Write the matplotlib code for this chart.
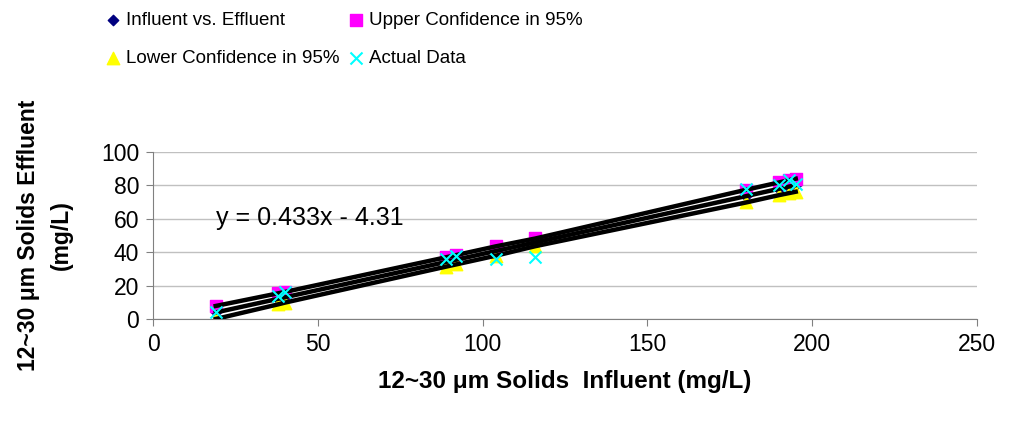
import matplotlib.pyplot as plt

plt.rcParams['font.family'] = ['Liberation Sans', 'DejaVu Sans']

# influent values (mg/L)
influent = [19, 38, 40, 89, 92, 104, 116, 180, 190, 193, 195]
# fitted effluent, y = 0.433x - 4.31
fitted = [3.9, 12.1, 13.0, 34.2, 35.5, 40.7, 45.9, 73.6, 78.0, 79.3, 80.1]
upper = [7.8, 15.4, 16.2, 37.0, 38.3, 43.5, 48.2, 77.4, 81.8, 83.2, 84.0]
lower = [0.0, 8.8, 9.8, 31.4, 32.7, 37.9, 43.6, 69.8, 74.2, 75.4, 76.2]
actual = [4, 14, 16, 36, 38, 36, 37, 78, 80, 83, 81]

equation = "y = 0.433x - 4.31"

fig = plt.figure(figsize=(10.14, 4.21), dpi=100)
ax = fig.add_axes([0.151, 0.2423, 0.8125, 0.3967])

# confidence lines and the fit
ax.plot(influent, upper, color='black', linewidth=3.2, zorder=3)
ax.plot(influent, lower, color='black', linewidth=3.2, zorder=3)
ax.plot(influent, fitted, color='black', linewidth=3.2, zorder=3)

h1 = ax.scatter(influent, fitted, marker='D', s=28, color='#000080', zorder=2)
h2 = ax.scatter(influent, upper, marker='s', s=70, color='#ff00ff', zorder=2)
h3 = ax.scatter(influent, lower, marker='^', s=80, color='#ffff00', zorder=2)
h4 = ax.scatter(influent, actual, marker='x', s=75, color='#00ffff', linewidths=1.5,
                zorder=4)

ax.text(19, 60.5, equation, fontsize=18, va='center', ha='left')

ax.set_xlim(0, 250)
ax.set_ylim(0, 100)
ax.set_xticks(range(0, 251, 50))
ax.set_yticks(range(0, 101, 20))
ax.tick_params(labelsize=16.5, direction='out', length=5, color='#808080', pad=5)
ax.yaxis.grid(True, color='#c0c0c0', linewidth=1)
ax.set_axisbelow(True)
for side in ['top', 'right']:
    ax.spines[side].set_visible(False)
for side in ['left', 'bottom']:
    ax.spines[side].set_color('#808080')

ax.set_xlabel('12~30 μm Solids  Influent (mg/L)', fontsize=17.5, fontweight='bold',
              labelpad=10)
ax.set_ylabel('12~30 μm Solids Effluent\n(mg/L)', fontsize=16.5, fontweight='bold',
              labelpad=20, linespacing=1.55)

# row-wise order like the original: Influent, Upper / Lower, Actual
fig.legend([h1, h3, h2, h4],
           ['Influent vs. Effluent', 'Lower Confidence in 95%',
            'Upper Confidence in 95%', 'Actual Data'],
           loc='upper left', bbox_to_anchor=(0.087, 1.012), ncol=2, frameon=False,
           fontsize=13.5, handletextpad=0.3, columnspacing=0.5, labelspacing=1.1,
           handlelength=0.8, scatterpoints=1)

fig.savefig('out.png', dpi=100)
